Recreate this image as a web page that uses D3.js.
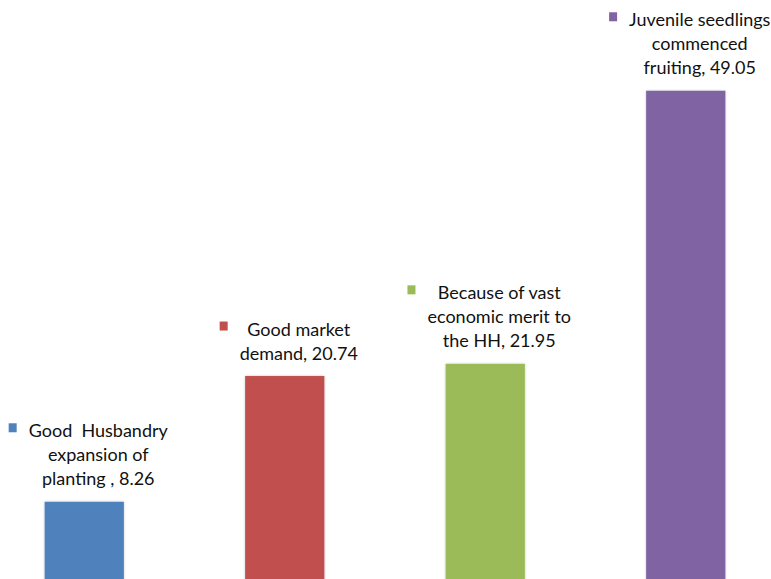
<!DOCTYPE html>
<html>
<head>
<meta charset="utf-8">
<script src="https://cdn.jsdelivr.net/npm/d3@7"></script>
<style>
  body { margin: 0; background: #fff; }
  text { font-family: Lato, "Open Sans", sans-serif; white-space: pre; }
</style>
</head>
<body>
<div id="chart"></div>
<script>
// category labels, already broken into lines as in the source chart
const categories = [
  ['Good  Husbandry', 'expansion of', 'planting '],
  ['Good market', 'demand'],
  ['Because of vast', 'economic merit to', 'the HH'],
  ['Juvenile seedlings', 'commenced', 'fruiting']
]
const values = [8.26, 20.74, 21.95, 49.05]
const colors = ['#4F81BD', '#C0504D', '#9BBB59', '#8064A2']

const width = 771
const height = 579

const svg = d3.select('#chart').append('svg')
    .attr('width', width)
    .attr('height', height)

// soft edge round the bars
const filter = svg.append('defs').append('filter')
    .attr('id', 'glow')
    .attr('x', '-10%').attr('y', '-10%')
    .attr('width', '120%').attr('height', '120%')
filter.append('feDropShadow')
    .attr('dx', 0).attr('dy', 0)
    .attr('stdDeviation', 1.3)
    .attr('flood-color', '#000')
    .attr('flood-opacity', 0.25)

const x = d3.scaleBand()
    .domain(d3.range(values.length))
    .range([-16, 786])
    .paddingInner(0.605)
    .paddingOuter(0.3025)

// baseline sits a little below the bottom edge of the picture
const y = d3.scaleLinear()
    .domain([0, 50])
    .range([585, 81.2])

svg.selectAll('.bar')
    .data(values)
  .enter().append('rect')
    .attr('class', 'bar')
    .attr('x', (d, i) => x(i))
    .attr('y', d => y(d))
    .attr('width', x.bandwidth())
    .attr('height', d => y(0) - y(d))
    .attr('fill', (d, i) => colors[i])
    .attr('filter', 'url(#glow)')

const lineH = 24
const fontSize = 18

const label = svg.selectAll('.label')
    .data(values)
  .enter().append('g')
    .attr('class', 'label')

label.each(function (d, i) {
  const g = d3.select(this)
  const lines = categories[i].slice()
  lines[lines.length - 1] += ', ' + d.toFixed(2)
  const cx = x(i) + x.bandwidth() / 2 + 14
  const lastBase = y(d) - 16.5
  const firstBase = lastBase - (lines.length - 1) * lineH

  const t = g.selectAll('text')
      .data(lines)
    .enter().append('text')
      .attr('x', cx)
      .attr('y', (l, j) => firstBase + j * lineH)
      .attr('text-anchor', 'middle')
      .attr('font-size', fontSize)
      .attr('fill', '#111')
      .text(l => l)

  let maxW = 0
  t.each(function () { maxW = Math.max(maxW, this.getComputedTextLength()) })

  g.append('rect')
      .attr('x', cx - maxW / 2 - 12 - 8)
      .attr('y', firstBase - 9 - 5)
      .attr('width', 8)
      .attr('height', 9)
      .attr('fill', colors[i])
})
</script>
</body>
</html>
